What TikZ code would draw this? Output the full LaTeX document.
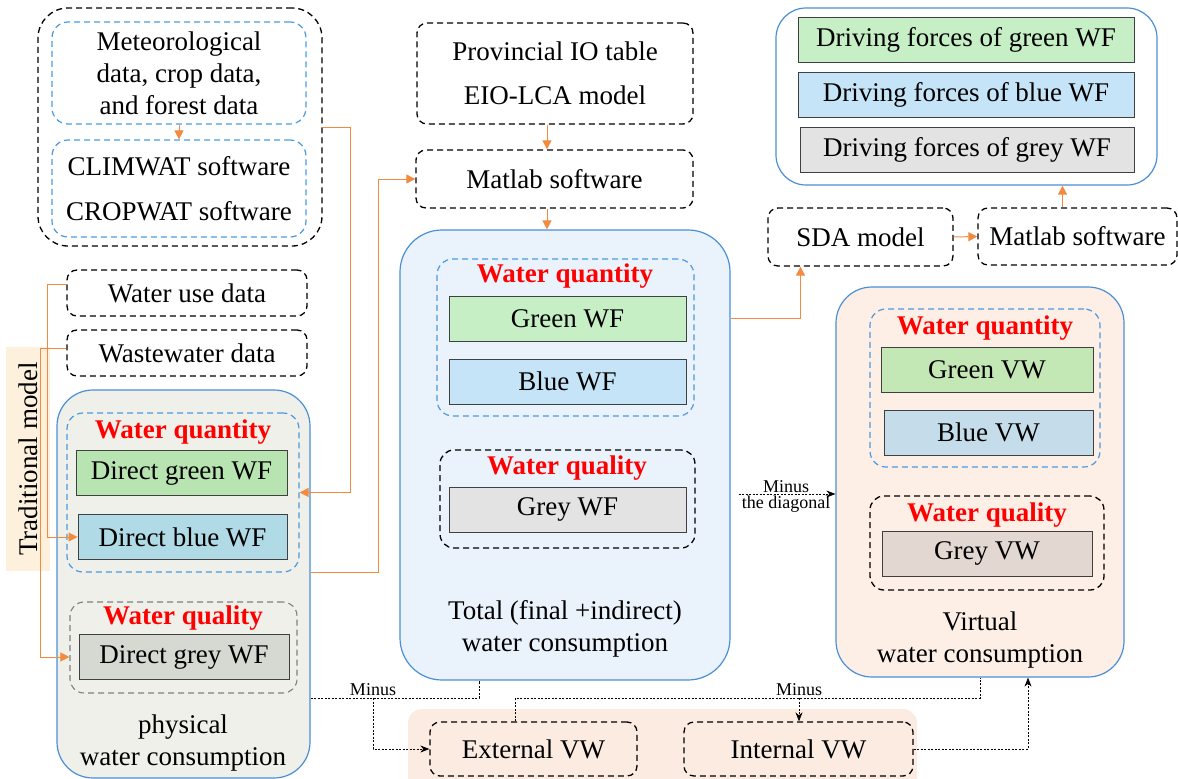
\documentclass[tikz,border=0pt]{standalone}
\usepackage{fontspec}
\setmainfont{Liberation Serif}
\usetikzlibrary{arrows.meta}

\definecolor{frameblue}{HTML}{4A8FD6}
\definecolor{dashblue}{HTML}{4C9BE0}
\definecolor{linkorange}{HTML}{F28A40}
\definecolor{physfill}{HTML}{EFF0E9}
\definecolor{totfill}{HTML}{EAF2FC}
\definecolor{virfill}{HTML}{FDEEE6}
\definecolor{bandfill}{HTML}{FCEBE1}
\definecolor{tradfill}{HTML}{FDF0DC}
\definecolor{greenA}{HTML}{C6EFC6}
\definecolor{blueA}{HTML}{C6E4F8}
\definecolor{greyA}{HTML}{E3E3E3}
\definecolor{greenB}{HTML}{B7E4B0}
\definecolor{blueB}{HTML}{B0DAE6}
\definecolor{greyB}{HTML}{D6D9D1}
\definecolor{greenC}{HTML}{C4E7B6}
\definecolor{blueC}{HTML}{C5DDEA}
\definecolor{greyC}{HTML}{E2D7D1}

\begin{document}
\begin{tikzpicture}[x=1pt,y=-1pt,font=\fontsize{27}{32}\selectfont,
    dbox/.style={draw, dash pattern=on 6pt off 4pt, line width=1.3pt, rounded corners=10pt, inner sep=0pt, align=center},
    bluebox/.style={dbox, draw=dashblue, line width=1.2pt, rounded corners=16pt},
    wfframe/.style={draw=frameblue, line width=1.2pt, rounded corners=36pt, inner sep=0pt},
    cell/.style={draw=black!75, line width=0.9pt, minimum height=45pt, inner sep=0pt},
    headtxt/.style={text=red, font=\fontsize{27}{32}\selectfont\bfseries},
    feed/.style={draw=linkorange, line width=1pt, -{Triangle[length=9pt,width=9pt]}},
    dotline/.style={line width=0.7pt, dash pattern=on 2pt off 1.5pt},
    minus/.style={dotline, -{Stealth[length=9pt,width=7pt]}},
    minor/.style={font=\fontsize{18}{20}\selectfont}]

    \useasboundingbox (0,0) rectangle (1178,779);
    \clip (0,0) rectangle (1178,779);

    \node[fill=tradfill, minimum width=44, minimum height=224, inner sep=0pt] (tradband) at (28,459) {};
    \node[rotate=90] (tradmodel) at (28,459) {Traditional model};

    \node[dbox, minimum width=284, minimum height=238, rounded corners=30pt] (meteo) at (180,127) {};
    \node[bluebox, minimum width=254, minimum height=102] (metdata) at (179,73) {Meteorological\\data, crop data,\\and forest data};
    \node[bluebox, minimum width=254, minimum height=97] (climwat) at (179,188.5) {CLIMWAT software\\[13pt]CROPWAT software};

    \node[dbox, minimum width=240, minimum height=46] (wateruse) at (187,293) {Water use data};
    \node[dbox, minimum width=240, minimum height=46] (wastewater) at (187,353) {Wastewater data};

    \node[wfframe, fill=physfill, minimum width=253, minimum height=388] (physical) at (183.5,584) {};
    \node[bluebox, minimum width=232, minimum height=159] (physqty) at (183,492.5) {};
    \node[headtxt] (physqtyhead) at (183,432) {Water quantity};
    \node[cell, fill=greenB, minimum width=211] (dgreen) at (181.5,473) {Direct green WF};
    \node[cell, fill=blueB, minimum width=209] (dblue) at (182.5,537) {Direct blue WF};
    \node[dbox, draw=black!50, line width=1.1pt, minimum width=227, minimum height=91, rounded corners=14pt] (physqual) at (183.5,647.5) {};
    \node[headtxt] (physqualhead) at (183,618) {Water quality};
    \node[cell, fill=greyB, minimum width=210] (dgrey) at (184,657) {Direct grey WF};
    \node[align=center] (physcap) at (183,743) {physical\\water consumption};

    \node[dbox, minimum width=276, minimum height=101] (provincial) at (555,73.5) {Provincial IO table\\[12pt]EIO-LCA model};
    \node[dbox, minimum width=277, minimum height=58] (matlabA) at (554.5,179) {Matlab software};

    \node[wfframe, fill=totfill, minimum width=330, minimum height=450, rounded corners=42pt] (total) at (565,455) {};
    \node[bluebox, minimum width=257, minimum height=157] (totqty) at (565.5,337.5) {};
    \node[headtxt] (totqtyhead) at (565,276) {Water quantity};
    \node[cell, fill=greenA, minimum width=237] (greenwf) at (567.5,318.5) {Green WF};
    \node[cell, fill=blueA, minimum width=237] (bluewf) at (567.5,381.5) {Blue WF};
    \node[dbox, minimum width=255, minimum height=98, rounded corners=14pt] (totqual) at (567.5,499) {};
    \node[headtxt] (totqualhead) at (567,468) {Water quality};
    \node[cell, fill=greyA, minimum width=237] (greywf) at (567.5,509.5) {Grey WF};
    \node[align=center] (totcap) at (565,628.5) {Total (final +indirect)\\water consumption};

    \node[wfframe, fill=white, minimum width=381, minimum height=177, rounded corners=30pt] (drivers) at (966.5,96.5) {};
    \node[cell, fill=greenA, minimum width=336] (drvgreen) at (966,39.5) {Driving forces of green WF};
    \node[cell, fill=blueA, minimum width=336] (drvblue) at (966,94.5) {Driving forces of blue WF};
    \node[cell, fill=greyA, minimum width=334] (drvgrey) at (967,149.5) {Driving forces of grey WF};

    \node[dbox, minimum width=185, minimum height=58] (sda) at (860.5,237) {SDA model};
    \node[dbox, minimum width=199, minimum height=57] (matlabB) at (1077.5,236.5) {Matlab software};

    \node[wfframe, fill=virfill, minimum width=288, minimum height=390] (virtual) at (980,482) {};
    \node[bluebox, minimum width=230, minimum height=158] (virqty) at (985,388) {};
    \node[headtxt] (virqtyhead) at (985,328) {Water quantity};
    \node[cell, fill=greenC, minimum width=212] (greenvw) at (987,369.5) {Green VW};
    \node[cell, fill=blueC, minimum width=209] (bluevw) at (988.5,432.5) {Blue VW};
    \node[dbox, minimum width=234, minimum height=94, rounded corners=14pt] (virqual) at (987,543) {};
    \node[headtxt] (virqualhead) at (987,515) {Water quality};
    \node[cell, fill=greyC, minimum width=210] (greyvw) at (987,553.5) {Grey VW};
    \node[align=center] (vircap) at (980,640) {Virtual\\water consumption};

    \node[fill=bandfill, rounded corners=14pt, minimum width=509, minimum height=100, inner sep=0pt] (vwband) at (662.5,759) {};
    \node[dbox, minimum width=207, minimum height=54] (external) at (533.5,749) {External VW};
    \node[dbox, minimum width=229, minimum height=54] (internal) at (798.5,749) {Internal VW};

    \draw[feed] (metdata.south) -- (climwat.north);
    \draw[feed] (meteo.east) -- ++(28,0) |- (physqty.east);
    \draw[feed] ([yshift=9pt]wateruse.west) -- ++(-19,0) |- (dblue.west);
    \draw[feed] ([yshift=5pt]wastewater.west) -- ++(-26,0) |- (physqual.west |- dgrey);
    \draw[feed] (physqty.south -| physical.east) -- ++(68,0) |- (matlabA.west);
    \coordinate (ioflow) at ([xshift=-8pt]provincial.south);
    \draw[feed] (ioflow) -- (ioflow |- matlabA.north);
    \draw[feed] (ioflow |- matlabA.south) -- (ioflow |- total.north);
    \draw[feed] (greenwf -| total.east) -| ([xshift=-60pt]sda.south);
    \draw[feed] (sda.east) -- (matlabB.west);
    \coordinate (mbtop) at ([xshift=-15pt]matlabB.north);
    \draw[feed] (mbtop) -- (mbtop |- drivers.south);

    \coordinate (diag) at (786,494);
    \draw[minus] ([xshift=8pt]diag -| total.east) -- (diag -| virtual.west);
    \node[minor, anchor=south, inner sep=1pt] (diagup) at (diag) {Minus};
    \node[minor, anchor=north, inner sep=2pt] (diagdown) at (diag) {the diagonal};

    \coordinate (jphys) at (373,698);
    \coordinate (jvir) at (799,698);
    \draw[dotline] (jphys -| physical.east) -| ([xshift=-86pt]total.south);
    \draw[minus] (jphys) |- (external.west);
    \node[minor, anchor=south, inner sep=2pt] (minusphys) at (jphys) {Minus};
    \draw[dotline] ([xshift=-18pt]external.north) |- (jvir -| virtual.south) -- (virtual.south);
    \draw[minus] (jvir) -- (jvir |- internal.north);
    \node[minor, anchor=south, inner sep=2pt] (minusvir) at (jvir) {Minus};
    \draw[minus] (internal.east) -| ([xshift=48pt]virtual.south);

\end{tikzpicture}
\end{document}
